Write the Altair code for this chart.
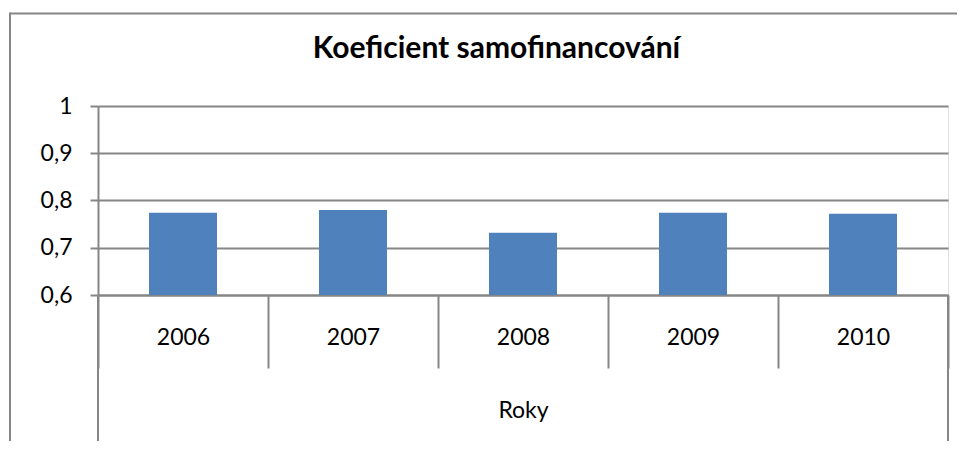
import altair as alt
import pandas as pd

years = ["2006", "2007", "2008", "2009", "2010"]
values = [0.774, 0.780, 0.732, 0.774, 0.772]
y_ticks = [0.6, 0.7, 0.8, 0.9, 1.0]
title_text = "Koeficient samofinancování"
x_title = "Roky"

GRAY = "#868686"
BLUE = "#4F81BD"
FONT = "Lato"
W, H = 850, 189

df = pd.DataFrame({"year": years, "value": values})
base = alt.Chart(df)

bars = base.mark_bar(color=BLUE, width=alt.RelativeBandSize(0.4)).encode(
    x=alt.X(
        "year:N",
        sort=years,
        scale=alt.Scale(paddingInner=0, paddingOuter=0),
        axis=alt.Axis(
            title=x_title,
            tickBand="extent",
            tickSize=73,
            tickWidth=2,
            tickColor=GRAY,
            domainColor=GRAY,
            domainWidth=2,
            labelAngle=0,
            labelFont=FONT,
            labelFontSize=23,
            labelColor="black",
            labelBaseline="middle",
            labelPadding=-31,
            titleFont=FONT,
            titleFontSize=23,
            titleFontWeight="normal",
            titleColor="black",
            titleBaseline="middle",
            titleY=115,
            grid=False,
        ),
    ),
    y=alt.Y(
        "value:Q",
        scale=alt.Scale(domain=[y_ticks[0], y_ticks[-1]], nice=False, zero=False),
        axis=alt.Axis(
            title=None,
            values=y_ticks,
            labelExpr="replace(format(datum.value, '.1~f'), '.', ',')",
            grid=True,
            gridColor=GRAY,
            gridWidth=2,
            tickColor=GRAY,
            tickWidth=2,
            tickSize=8,
            domainColor=GRAY,
            domainWidth=2,
            labelFont=FONT,
            labelFontSize=23,
            labelColor="black",
            labelPadding=18,
        ),
    ),
    y2=alt.datum(y_ticks[0]),
)

sep_left = alt.Chart(pd.DataFrame({"year": [years[0]]})).mark_rule(
    color=GRAY, strokeWidth=2
).encode(
    x=alt.X("year:N", sort=years, bandPosition=0),
    y=alt.value(H),
    y2=alt.value(H + 147),
)
sep_right = alt.Chart(pd.DataFrame({"year": [years[-1]]})).mark_rule(
    color=GRAY, strokeWidth=2
).encode(
    x=alt.X("year:N", sort=years, bandPosition=1),
    y=alt.value(H),
    y2=alt.value(H + 147),
)

one = pd.DataFrame({"a": [0]})
border_top = alt.Chart(one).mark_rule(color=GRAY, strokeWidth=2).encode(
    x=alt.value(-88),
    x2=alt.value(1000),
    y=alt.value(-92.5),
)
border_left = alt.Chart(one).mark_rule(color=GRAY, strokeWidth=2).encode(
    x=alt.value(-88),
    y=alt.value(-93.5),
    y2=alt.value(700),
)

chart = (
    alt.layer(border_top, border_left, bars, sep_left, sep_right)
    .properties(
        width=W,
        height=H,
        title=alt.TitleParams(
            text=title_text,
            font=FONT,
            fontSize=30,
            fontWeight="bold",
            color="black",
            anchor="middle",
            baseline="alphabetic",
            offset=-76.5,
            dx=-26.5,
        ),
        autosize=alt.AutoSizeParams(type="none"),
        padding={"left": 90, "top": 98, "right": 9, "bottom": 146},
    )
    .configure_view(strokeWidth=0)
    .configure(background="white")
)

chart.save("out.html", embed_options={"renderer": "svg", "actions": False})
